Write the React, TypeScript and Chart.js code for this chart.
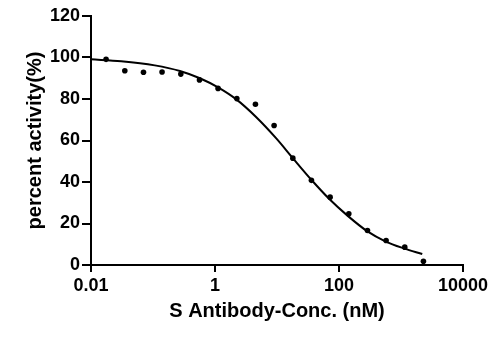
import React, { useEffect, useRef } from "react";
import { Chart, registerables } from "chart.js";

Chart.register(...registerables);

// Measured concentrations (nM), two-fold dilution series
const concentrations = [
  0.0175, 0.0351, 0.0702, 0.14, 0.281, 0.562, 1.12, 2.25, 4.49, 8.98, 18.0,
  35.9, 71.9, 144, 288, 575, 1150, 2300,
];
// Measured percent activity at each concentration
const activity = [
  99.1, 93.6, 92.9, 93.0, 92.0, 89.2, 85.1, 80.2, 77.5, 67.2, 51.5, 40.8, 32.7,
  24.7, 16.6, 11.8, 8.6, 1.8,
];

// Dose-response fit curve, sampled along the concentration axis
const curveConc = [
  0.01, 0.0307, 0.107, 0.272, 0.57, 1.12, 2.21, 4.64, 9.73, 18.0, 35.5, 69.8,
  137, 288, 569, 1119, 2203,
];
const curveActivity = [
  99.1, 98.2, 96.2, 93.5, 90.0, 85.6, 79.8, 71.2, 61.0, 51.5, 41.2, 31.8, 23.8,
  16.2, 11.3, 8.0, 5.3,
];

// Axis ticks
const xTickValues = [0.01, 1, 100, 10000];
const xTickLabels = ["0.01", "1", "100", "10000"];

const xTitle = "S Antibody-Conc. (nM)";
const yTitle = "percent activity(%)";

const FONT = '"Liberation Sans", Arial, sans-serif';

export default function App() {
  const canvasRef = useRef<HTMLCanvasElement | null>(null);

  useEffect(() => {
    const canvas = canvasRef.current;
    if (!canvas) return;

    const chart = new Chart(canvas, {
      type: "scatter",
      data: {
        datasets: [
          {
            label: "fit",
            data: curveConc.map((x, i) => ({ x, y: curveActivity[i] })),
            showLine: true,
            borderColor: "#000",
            borderWidth: 2,
            pointRadius: 0,
            cubicInterpolationMode: "monotone",
          },
          {
            label: "activity",
            data: concentrations.map((x, i) => ({ x, y: activity[i] })),
            showLine: false,
            pointRadius: 2.8,
            pointBackgroundColor: "#000",
            pointBorderColor: "#000",
            pointBorderWidth: 0,
          },
        ],
      },
      options: {
        animation: false,
        responsive: false,
        devicePixelRatio: 1,
        layout: { padding: { left: 0, right: 40, top: 16, bottom: 0 } },
        plugins: {
          legend: { display: false },
          tooltip: { enabled: false },
        },
        scales: {
          x: {
            type: "logarithmic",
            min: 0.01,
            max: 10000,
            afterBuildTicks: (scale: any) => {
              scale.ticks = xTickValues.map((v) => ({ value: v }));
            },
            afterFit: (scale: any) => {
              scale.height = 75;
            },
            ticks: {
              autoSkip: false,
              maxRotation: 0,
              color: "#000",
              padding: 3,
              font: { family: FONT, size: 18, weight: "bold" },
              callback: (value: any) => {
                const i = xTickValues.indexOf(Number(value));
                return i >= 0 ? xTickLabels[i] : "";
              },
            },
            grid: {
              drawOnChartArea: false,
              drawTicks: true,
              tickLength: 7,
              color: "#000",
              lineWidth: 2,
            },
            border: { display: true, color: "#000", width: 2 },
            title: {
              display: true,
              text: xTitle,
              color: "#000",
              font: { family: FONT, size: 20, weight: "bold" },
              padding: { top: 0, bottom: 17 },
            },
          },
          y: {
            min: 0,
            max: 120,
            afterFit: (scale: any) => {
              scale.width = 91;
            },
            ticks: {
              stepSize: 20,
              color: "#000",
              padding: 2,
              font: { family: FONT, size: 18, weight: "bold" },
            },
            grid: {
              drawOnChartArea: false,
              drawTicks: true,
              tickLength: 9,
              color: "#000",
              lineWidth: 2,
            },
            border: { display: true, color: "#000", width: 2 },
            title: {
              display: true,
              text: yTitle,
              color: "#000",
              font: { family: FONT, size: 20, weight: "bold" },
              padding: { top: 23, bottom: 0 },
            },
          },
        },
      },
    } as any);

    return () => chart.destroy();
  }, []);

  return (
    <div
      style={{
        position: "fixed",
        left: 0,
        top: 0,
        width: 503,
        height: 340,
        background: "#fff",
      }}
    >
      <canvas ref={canvasRef} width={503} height={340} />
    </div>
  );
}
